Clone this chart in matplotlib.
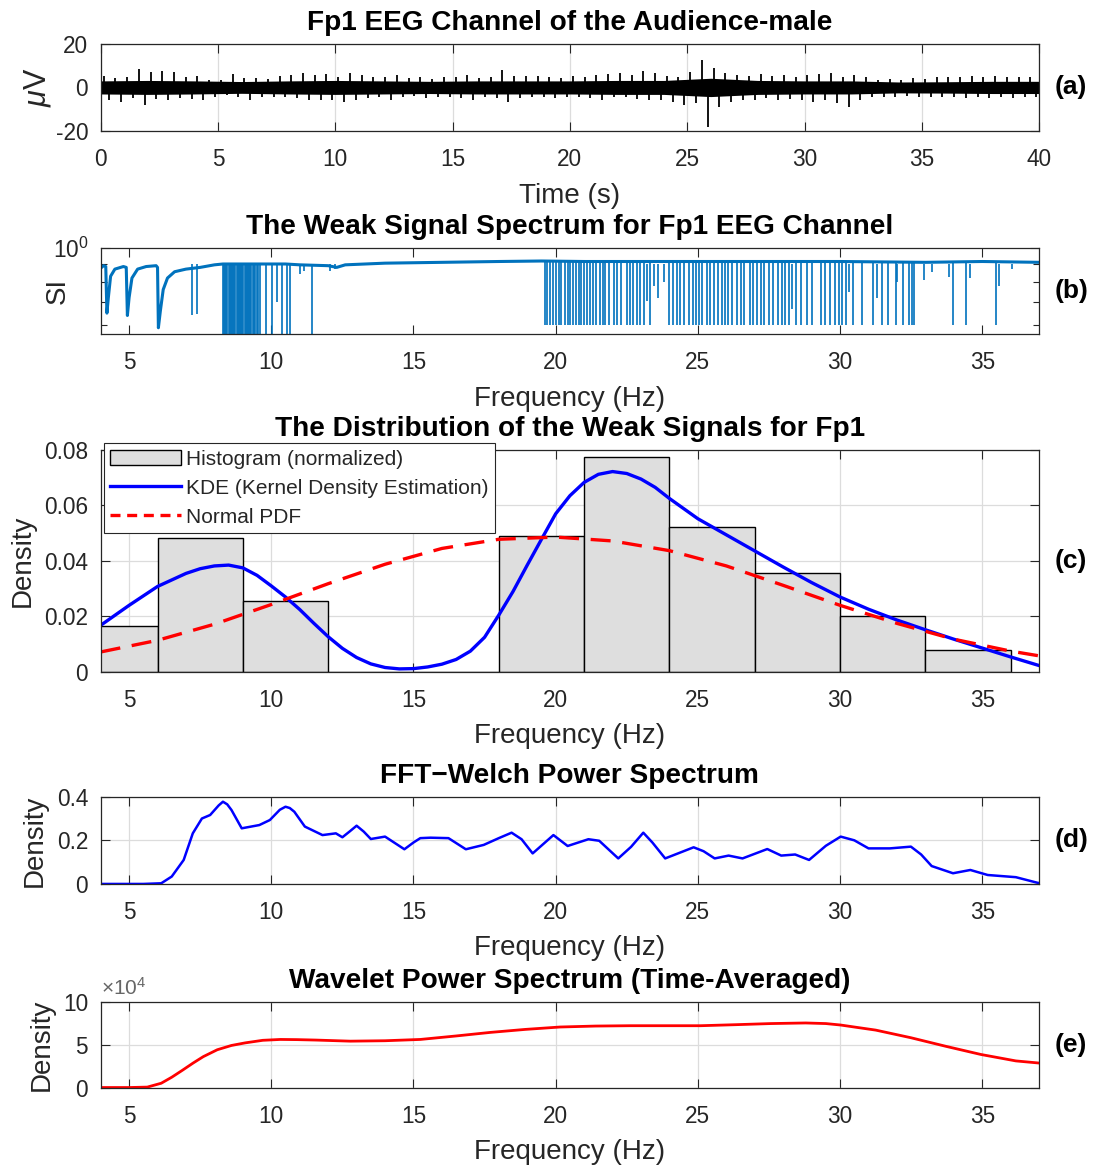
import numpy as np
import matplotlib
matplotlib.use("Agg")
import matplotlib.pyplot as plt
from matplotlib.ticker import FuncFormatter, FixedLocator, NullFormatter, LogFormatterSciNotation
from matplotlib.patches import Patch
from matplotlib.lines import Line2D

plt.rcParams['font.family'] = ['Liberation Sans', 'DejaVu Sans']
plt.rcParams['mathtext.fontset'] = 'custom'
plt.rcParams['mathtext.rm'] = 'Liberation Sans'
plt.rcParams['mathtext.it'] = 'Liberation Sans:italic'
plt.rcParams['axes.unicode_minus'] = False

# ---- (a) EEG trace: extremes read per 0.5 s window, core band per 2 s ----
eeg_hi = [5.2, 4.1, 4.6, 8.4, 7.2, 7.6, 7.2, 4.9, 5.2, 3.4,
          3.4, 6.1, 4.1, 4.1, 3.7, 5.2, 5.6, 6.7, 5.6, 6.1,
          4.9, 6.7, 5.6, 4.9, 4.6, 5.6, 4.1, 4.9, 3.7, 4.9,
          4.6, 5.6, 4.1, 4.9, 7.9, 5.2, 5.2, 5.2, 4.9, 4.1,
          5.2, 4.9, 5.6, 6.1, 6.4, 5.6, 7.6, 6.4, 5.2, 4.6,
          7.2, 12.8, 8.7, 6.7, 5.6, 5.2, 6.1, 5.2, 5.6, 4.9,
          5.6, 6.1, 6.4, 4.6, 5.6, 4.6, 3.4, 3.7, 3.4, 4.1,
          3.7, 4.6, 4.9, 4.9, 5.2, 4.9, 5.2, 4.9, 4.9, 4.6]
eeg_lo = [-5.8, -6.5, -5.0, -8.0, -5.5, -5.8, -5.0, -5.3, -5.8, -4.3,
          -3.5, -4.6, -5.8, -4.3, -4.3, -4.6, -5.0, -5.8, -5.8, -5.8,
          -6.5, -5.8, -5.0, -4.6, -5.8, -4.6, -4.0, -5.0, -4.3, -4.6,
          -5.0, -5.8, -4.6, -5.0, -6.5, -5.0, -4.6, -4.6, -5.0, -4.3,
          -4.6, -5.0, -5.8, -4.3, -4.6, -5.5, -5.8, -5.8, -6.5, -8.0,
          -7.3, -18.0, -8.9, -6.5, -5.8, -5.8, -5.0, -5.8, -5.5, -5.8,
          -6.5, -5.8, -7.3, -8.9, -5.8, -4.6, -4.3, -4.3, -4.0, -4.3,
          -4.3, -4.6, -4.6, -5.0, -4.6, -5.0, -4.6, -5.0, -4.6, -4.6]
core_time = [0, 2, 4, 6, 8, 10, 12, 14, 16, 18, 20, 22, 24, 26, 28, 30, 32, 34, 36, 38, 40]
core_half = [3.0, 3.2, 3.0, 2.7, 3.0, 3.2, 3.0, 2.8, 3.0, 3.0, 3.0,
             3.2, 3.2, 4.2, 3.2, 3.0, 3.0, 2.5, 2.6, 2.8, 2.8]

# ---- (b) weak signal spectrum ----
si_freq = [4.0, 4.1, 4.18, 4.22, 4.27, 4.35, 4.5, 4.8, 4.9, 4.94, 5.0, 5.1, 5.3, 5.6,
           5.95, 6.0, 6.03, 6.1, 6.2, 6.35, 6.6, 7.0, 7.5, 8.0, 8.3, 9.7, 10.5, 11.0,
           12.0, 12.3, 12.6, 14.0, 16.0, 18.0, 19.5, 21.0, 25.0, 30.0, 33.0, 35.0, 37.0]
si_val = [0.875, 0.89, 0.885, 0.65, 0.72, 0.83, 0.87, 0.885, 0.88, 0.64, 0.72, 0.82, 0.87, 0.885,
          0.89, 0.88, 0.59, 0.66, 0.76, 0.82, 0.855, 0.87, 0.88, 0.895, 0.9, 0.9, 0.9, 0.895,
          0.89, 0.88, 0.895, 0.905, 0.91, 0.915, 0.918, 0.915, 0.915, 0.915, 0.91, 0.915, 0.91]
block_dips = [8.30, 8.34, 8.38, 8.42, 8.46, 8.50, 8.54, 8.58, 8.62, 8.66, 8.70, 8.74,
              8.78, 8.82, 8.86, 8.90, 8.94, 8.98, 9.02, 9.06, 9.10, 9.14, 9.18, 9.22,
              9.26, 9.30, 9.34, 9.38, 9.43, 9.48, 9.53, 9.60, 9.82, 10.01, 10.38,
              10.56, 10.66, 11.43]
deep_dips = [19.61, 19.70, 19.80, 19.90, 20.02, 20.11, 20.20, 20.32, 20.42, 20.52, 20.61,
             20.71, 20.83, 20.90, 20.99, 21.11, 21.20, 21.30, 21.43, 21.55, 21.65, 21.74,
             21.87, 22.05, 22.16, 22.31, 22.49, 22.62, 22.71, 22.87, 22.98, 23.12, 23.31,
             24.00, 24.12, 24.25, 24.38, 24.50, 24.69, 24.82, 24.94, 25.04, 25.13, 25.32,
             25.42, 25.57, 25.69, 25.84, 25.94, 26.07, 26.20, 26.38, 26.51, 26.63, 26.82,
             26.95, 27.07, 27.22, 27.32, 27.51, 27.64, 27.80, 27.95, 28.08, 28.20, 28.45,
             28.64, 28.83, 29.02, 29.33, 29.46, 29.65, 29.83, 29.96, 30.06, 30.21, 30.46,
             30.78, 31.15, 31.47, 31.69, 31.97, 32.22, 32.41, 32.53, 32.59, 33.97, 34.41, 35.48]
shallow_f = [7.20, 7.38, 10.19, 11.0, 11.15, 12.05, 12.25, 23.20, 23.45, 23.60, 23.80,
             28.30, 30.30, 31.30, 32.00, 32.94, 33.23, 33.82, 34.58, 35.58, 36.03]
shallow_v = [0.64, 0.646, 0.70, 0.84, 0.86, 0.86, 0.87, 0.706, 0.78, 0.72, 0.80,
             0.67, 0.75, 0.72, 0.80, 0.81, 0.855, 0.827, 0.818, 0.78, 0.87]

# ---- (c) distribution ----
hist_left = [3, 6, 9, 12, 15, 18, 21, 24, 27, 30, 33]
hist_height = [0.0165, 0.0484, 0.0256, 0.0, 0.0, 0.049, 0.0775, 0.0522, 0.0356, 0.0203, 0.0080]
kde_f = [4, 5, 6, 7, 7.5, 8, 8.5, 9, 9.5, 10, 10.5, 11, 11.5, 12, 12.5, 13, 13.5, 14, 14.5,
         15, 15.5, 16, 16.5, 17, 17.5, 18, 18.5, 19, 19.5, 20, 20.5, 21, 21.5, 22, 22.5,
         23, 23.5, 24, 25, 26, 27, 28, 29, 30, 31, 32, 33, 34, 35, 36, 37]
kde_d = [0.0168, 0.024, 0.0308, 0.0355, 0.0372, 0.0382, 0.0385, 0.0375, 0.0348, 0.031,
         0.027, 0.0225, 0.0175, 0.0127, 0.0085, 0.0052, 0.0029, 0.0016, 0.0011, 0.0012,
         0.0018, 0.0028, 0.0045, 0.0075, 0.0125, 0.0205, 0.029, 0.0385, 0.0478, 0.057,
         0.0635, 0.0683, 0.0712, 0.0722, 0.0715, 0.0695, 0.0665, 0.0625, 0.0552, 0.0494,
         0.0436, 0.0378, 0.0322, 0.027, 0.0226, 0.0187, 0.0152, 0.0118, 0.0086, 0.0054, 0.0023]
norm_f = [4, 6, 8, 10, 12, 14, 16, 18, 20, 22, 24, 26, 28, 30, 32, 34, 36, 37]
norm_d = [0.0072, 0.0114, 0.0172, 0.0243, 0.0318, 0.0388, 0.0445, 0.0478, 0.0486, 0.0472,
          0.0437, 0.0382, 0.0312, 0.0240, 0.0175, 0.0118, 0.0075, 0.0058]

# ---- (d) Welch spectrum ----
welch_f = [4.0, 5.5, 6.13, 6.5, 6.92, 7.24, 7.56, 7.85, 8.15, 8.3, 8.45, 8.6, 8.96, 9.58,
           9.95, 10.3, 10.5, 10.65, 10.81, 11.18, 11.8, 12.27, 12.5, 12.75, 13.0, 13.25,
           13.5, 14.0, 14.68, 15.0, 15.24, 15.6, 16.23, 16.84, 17.47, 18.0, 18.45, 18.8,
           19.19, 19.92, 20.42, 21.15, 21.53, 22.2, 22.65, 23.08, 23.4, 23.85, 24.4,
           24.85, 25.2, 25.59, 26.08, 26.57, 27.44, 27.93, 28.42, 28.91, 29.5, 30.02,
           30.5, 31.0, 31.75, 32.49, 32.85, 33.22, 33.97, 34.58, 35.19, 36.18, 36.92, 37.0]
welch_p = [0.0, 0.0, 0.003, 0.034, 0.11, 0.232, 0.30, 0.316, 0.36, 0.377, 0.365, 0.339,
           0.255, 0.27, 0.293, 0.34, 0.354, 0.348, 0.331, 0.263, 0.224, 0.232, 0.214,
           0.24, 0.267, 0.24, 0.206, 0.217, 0.159, 0.19, 0.21, 0.212, 0.21, 0.159, 0.179,
           0.21, 0.235, 0.205, 0.14, 0.224, 0.174, 0.205, 0.198, 0.117, 0.17, 0.235,
           0.19, 0.117, 0.145, 0.168, 0.15, 0.117, 0.13, 0.117, 0.16, 0.13, 0.135, 0.11,
           0.175, 0.217, 0.2, 0.163, 0.163, 0.171, 0.135, 0.082, 0.049, 0.064, 0.041,
           0.031, 0.006, 0.004]

# ---- (e) wavelet spectrum (x 1e4) ----
wav_f = [4.0, 5.0, 5.64, 6.13, 6.5, 6.87, 7.25, 7.61, 8.1, 8.6, 9.08, 9.7, 10.32, 10.9,
         11.55, 12.78, 14.0, 15.24, 16.48, 17.7, 18.93, 20.16, 21.4, 22.63, 23.86, 25.09,
         26.33, 27.56, 28.79, 29.5, 30.02, 30.6, 31.25, 32.49, 33.72, 34.95, 36.18, 37.0]
wav_p = [0.0, 0.0, 0.05, 0.5, 1.2, 2.0, 2.85, 3.6, 4.4, 4.9, 5.2, 5.5, 5.6, 5.58,
         5.53, 5.4, 5.45, 5.6, 6.0, 6.42, 6.77, 7.05, 7.16, 7.2, 7.2, 7.2,
         7.32, 7.45, 7.52, 7.45, 7.28, 7.0, 6.69, 5.8, 4.8, 3.85, 3.1, 2.85]

dark = '#262626'
fig = plt.figure(figsize=(11, 11.68), dpi=100)
L, W = 0.0915, 0.8532
ax_a = fig.add_axes([L, 0.8878, W, 0.0747])
ax_b = fig.add_axes([L, 0.7140, W, 0.0736])
ax_c = fig.add_axes([L, 0.4247, W, 0.1901])
ax_d = fig.add_axes([L, 0.2432, W, 0.0747])
ax_e = fig.add_axes([L, 0.0689, W, 0.0735])

gfmt = FuncFormatter(lambda v, p: '%g' % v)


def style(ax, grid=True):
    ax.tick_params(which='both', direction='in', top=True, right=True, length=6.5,
                   width=0.8, colors=dark, labelsize=16.3)
    ax.tick_params(axis='x', pad=12.5)
    ax.tick_params(axis='y', pad=9)
    ax.tick_params(which='minor', length=4)
    for s in ax.spines.values():
        s.set_color(dark)
        s.set_linewidth(0.9)
    if grid:
        ax.grid(True, color='#dcdcdc', linewidth=0.9)
    ax.set_axisbelow(True)


def panel_label(ax, txt):
    ax.text(1.017, 0.5, txt, transform=ax.transAxes, ha='left', va='center',
            fontsize=19, fontweight='bold', color='black')


title_kw = dict(fontsize=20.2, fontweight='bold', color='black', pad=10)
xlab_kw = dict(fontsize=20, color=dark, labelpad=8)

# (a)
t_hi = np.arange(len(eeg_hi)) * 0.5 + 0.125
t_lo = t_hi + 0.25
core = np.array(core_half)
ax_a.fill_between(core_time, -core, core, color='black', lw=0)
ax_a.vlines(t_hi, 0, eeg_hi, color='black', lw=1.3)
ax_a.vlines(t_lo, eeg_lo, 0, color='black', lw=1.3)
ax_a.set_xlim(0, 40)
ax_a.set_ylim(-20, 20)
ax_a.set_xticks(range(0, 41, 5))
ax_a.set_yticks([-20, 0, 20])
style(ax_a)
ax_a.set_title('Fp1 EEG Channel of the Audience-male', **title_kw)
ax_a.set_xlabel('Time (s)', **xlab_kw)
ax_a.set_ylabel(r'$\mu$V', fontsize=22, color=dark)
ax_a.yaxis.set_label_coords(-0.051, 0.5)
panel_label(ax_a, '(a)')

# (b)
blue_b = '#0072BD'
ax_b.plot(si_freq, si_val, color=blue_b, lw=2.2)
ax_b.vlines(block_dips, 0.5, 0.9, color=blue_b, lw=1.2)
ax_b.vlines(deep_dips, 0.6, 0.915, color=blue_b, lw=1.2)
ax_b.vlines(shallow_f, shallow_v, 0.9, color=blue_b, lw=1.2)
ax_b.set_yscale('log')
ax_b.set_ylim(0.566, 1.0)
ax_b.set_xlim(4, 37)
ax_b.set_xticks(range(5, 36, 5))
ax_b.yaxis.set_major_locator(FixedLocator([1.0]))
ax_b.yaxis.set_major_formatter(LogFormatterSciNotation())
ax_b.yaxis.set_minor_locator(FixedLocator([0.6, 0.7, 0.8, 0.9]))
ax_b.yaxis.set_minor_formatter(NullFormatter())
style(ax_b, grid=False)
ax_b.set_title('The Weak Signal Spectrum for Fp1 EEG Channel', **title_kw)
ax_b.set_xlabel('Frequency (Hz)', **xlab_kw)
ax_b.set_ylabel('SI', fontsize=20, color=dark)
ax_b.yaxis.set_label_coords(-0.032, 0.5)
panel_label(ax_b, '(b)')

# (c)
ax_c.bar(hist_left, hist_height, width=3, align='edge', color='#dedede',
         edgecolor='black', linewidth=1.0)
ax_c.plot(kde_f, kde_d, color='#0000ff', lw=2.4)
ax_c.plot(norm_f, norm_d, color='#ff0000', lw=2.4, dashes=(6, 3.5))
ax_c.set_xlim(4, 37)
ax_c.set_ylim(0, 0.08)
ax_c.set_xticks(range(5, 36, 5))
ax_c.set_yticks([0, 0.02, 0.04, 0.06, 0.08])
ax_c.yaxis.set_major_formatter(gfmt)
style(ax_c)
ax_c.set_title('The Distribution of the Weak Signals for Fp1', **title_kw)
ax_c.set_xlabel('Frequency (Hz)', **xlab_kw)
ax_c.set_ylabel('Density', fontsize=20, color=dark)
ax_c.yaxis.set_label_coords(-0.069, 0.5)
handles = [Patch(facecolor='#dedede', edgecolor='black', linewidth=1.0),
           Line2D([], [], color='#0000ff', lw=2.4),
           Line2D([], [], color='#ff0000', lw=2.4, dashes=(3, 2))]
leg = ax_c.legend(handles, ['Histogram (normalized)', 'KDE (Kernel Density Estimation)',
                            'Normal PDF'],
                  loc='upper left', bbox_to_anchor=(0.0035, 1.03), borderaxespad=0,
                  fontsize=15, handlelength=3.4, handletextpad=0.25, labelspacing=0.48,
                  borderpad=0.3, fancybox=False, framealpha=1, edgecolor=dark)
leg.get_frame().set_linewidth(0.8)
for txt in leg.get_texts():
    txt.set_color(dark)
panel_label(ax_c, '(c)')

# (d)
ax_d.plot(welch_f, welch_p, color='#0000ff', lw=1.8)
ax_d.set_xlim(4, 37)
ax_d.set_ylim(0, 0.4)
ax_d.set_xticks(range(5, 36, 5))
ax_d.set_yticks([0, 0.2, 0.4])
ax_d.yaxis.set_major_formatter(gfmt)
style(ax_d)
ax_d.set_title('FFT\u2212Welch Power Spectrum', **title_kw)
ax_d.set_xlabel('Frequency (Hz)', **xlab_kw)
ax_d.set_ylabel('Density', fontsize=20, color=dark)
ax_d.yaxis.set_label_coords(-0.056, 0.5)
panel_label(ax_d, '(d)')

# (e)
ax_e.plot(wav_f, np.array(wav_p) * 1e4, color='#ff0000', lw=2.0)
ax_e.set_xlim(4, 37)
ax_e.set_ylim(0, 1e5)
ax_e.set_xticks(range(5, 36, 5))
ax_e.set_yticks([0, 5e4, 1e5])
ax_e.yaxis.set_major_formatter(FuncFormatter(lambda v, p: '%g' % (v / 1e4)))
ax_e.text(0.0, 1.03, r'$\times10^{4}$', transform=ax_e.transAxes, ha='left', va='bottom',
          fontsize=15, color='#666666')
style(ax_e)
ax_e.set_title('Wavelet Power Spectrum (Time-Averaged)', **title_kw)
ax_e.set_xlabel('Frequency (Hz)', **xlab_kw)
ax_e.set_ylabel('Density', fontsize=20, color=dark)
ax_e.yaxis.set_label_coords(-0.049, 0.5)
panel_label(ax_e, '(e)')

fig.savefig('out.png', dpi=100)
